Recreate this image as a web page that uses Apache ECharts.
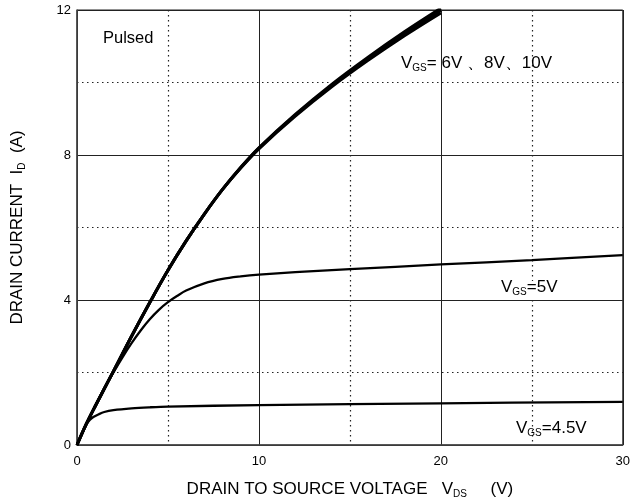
<!DOCTYPE html>
<html><head><meta charset="utf-8">
<script src="https://cdn.jsdelivr.net/npm/echarts@6/dist/echarts.min.js"></script>
<style>html,body{margin:0;padding:0;background:#fff}#c{width:633px;height:504px}</style>
</head><body><div id="c"></div>
<script>
// V_DS (V) sample points and I_D (A) values per curve
const vds_hi = [0, 0.5, 1, 2, 3, 4, 5, 6, 7, 8, 9, 10, 12, 14, 16, 18, 20];
const id_6v  = [0, 0.57, 1.07, 2.03, 3.0, 3.93, 4.82, 5.63, 6.37, 7.05, 7.64, 8.17, 9.07, 9.88, 10.61, 11.29, 11.92];
const id_8v  = [0, 0.57, 1.07, 2.03, 3.0, 3.93, 4.82, 5.63, 6.37, 7.05, 7.65, 8.19, 9.1, 9.92, 10.66, 11.35, 11.99];
const id_10v = [0, 0.57, 1.07, 2.03, 3.0, 3.93, 4.82, 5.63, 6.37, 7.05, 7.66, 8.2, 9.12, 9.95, 10.7, 11.4, 12.05];
const vds_5v = [0, 0.5, 1, 1.5, 2, 2.5, 3, 3.5, 4, 4.5, 5, 5.5, 6, 7, 8, 9, 10, 12, 15, 20, 25, 30];
const id_5v  = [0, 0.56, 1.08, 1.56, 2.0, 2.42, 2.81, 3.16, 3.47, 3.73, 3.94, 4.11, 4.26, 4.46, 4.58, 4.65, 4.7, 4.77, 4.85, 4.98, 5.1, 5.24];
const vds_45 = [0, 0.25, 0.5, 0.7, 0.9, 1.2, 1.5, 2, 3, 4, 5, 10, 20, 30];
const id_45  = [0, 0.3, 0.55, 0.69, 0.77, 0.85, 0.91, 0.96, 1.01, 1.04, 1.06, 1.1, 1.15, 1.19];
const xTicks = [0, 10, 20, 30];
const yTicks = [0, 4, 8, 12];

const pair = (xs, ys) => xs.map((x, i) => [x, ys[i]]);
const FONT = '"Liberation Sans", Arial, sans-serif';
const lineSeries = (name, data, w) => ({
  name, type: 'line', data, smooth: 0.35, showSymbol: false, symbol: 'none',
  lineStyle: { color: '#000', width: w }, z: 5, animation: false
});
const sub = { fontSize: 10, fontFamily: FONT, color: '#000', padding: [10, 0, 0, 0] };
const main = { fontSize: 17, fontFamily: FONT, color: '#000' };

const chart = echarts.init(document.getElementById('c'));
chart.setOption({
  animation: false,
  backgroundColor: '#fff',
  grid: { left: 77, right: 7, top: 10, bottom: 55, show: true, borderColor: '#222', borderWidth: 1 },
  xAxis: {
    type: 'value', min: xTicks[0], max: xTicks[xTicks.length - 1], interval: 10,
    axisLine: { show: true, lineStyle: { color: '#444', width: 1.5 } },
    axisTick: { show: false },
    axisLabel: { color: '#000', fontSize: 13, fontFamily: FONT, margin: 10 },
    splitLine: { show: true, lineStyle: { color: '#222', width: 1 } },
    minorTick: { show: false, splitNumber: 2 },
    minorSplitLine: { show: true, lineStyle: { color: '#222', width: 1.2, type: [1.5, 3.5] } },
    name: '{m|DRAIN TO SOURCE VOLTAGE   V}{s|DS}{m|     (V)}',
    nameLocation: 'middle', nameGap: 34,
    nameTextStyle: { rich: { m: main, s: sub } }
  },
  yAxis: {
    type: 'value', min: yTicks[0], max: yTicks[yTicks.length - 1], interval: 4,
    axisLine: { show: true, lineStyle: { color: '#444', width: 1.5 } },
    axisTick: { show: false },
    axisLabel: { color: '#000', fontSize: 13, fontFamily: FONT, margin: 6 },
    splitLine: { show: true, lineStyle: { color: '#222', width: 1 } },
    minorTick: { show: false, splitNumber: 2 },
    minorSplitLine: { show: true, lineStyle: { color: '#222', width: 1.2, type: [1.5, 3.5] } },
    name: '{m|DRAIN CURRENT  I}{s|D}{m|  (A)}',
    nameLocation: 'middle', nameRotate: 90, nameGap: 50,
    nameTextStyle: { rich: { m: main, s: sub } }
  },
  graphic: [
    { type: 'text', left: 103, top: 30, z: 10, style: { text: 'Pulsed', font: '16.5px ' + FONT, fill: '#000' } },
    { type: 'text', left: 401, top: 55, z: 10, style: {
      text: '{m|V}{s|GS}{m|= 6V 、8V、10V}', rich: { m: main, s: sub } } },
    { type: 'rect', left: 497, top: 281, z: 9, shape: { width: 66, height: 18 }, style: { fill: '#fff' } },
    { type: 'text', left: 501, top: 279, z: 10, style: {
      text: '{m|V}{s|GS}{m|=5V}', rich: { m: main, s: sub } } },
    { type: 'text', left: 516, top: 420, z: 10, style: {
      text: '{m|V}{s|GS}{m|=4.5V}', rich: { m: main, s: sub } } }
  ],
  series: [
    lineSeries('VGS=6V', pair(vds_hi, id_6v), 3),
    lineSeries('VGS=8V', pair(vds_hi, id_8v), 3),
    lineSeries('VGS=10V', pair(vds_hi, id_10v), 3),
    lineSeries('VGS=5V', pair(vds_5v, id_5v), 2.3),
    lineSeries('VGS=4.5V', pair(vds_45, id_45), 2.3)
  ]
});
</script></body></html>
